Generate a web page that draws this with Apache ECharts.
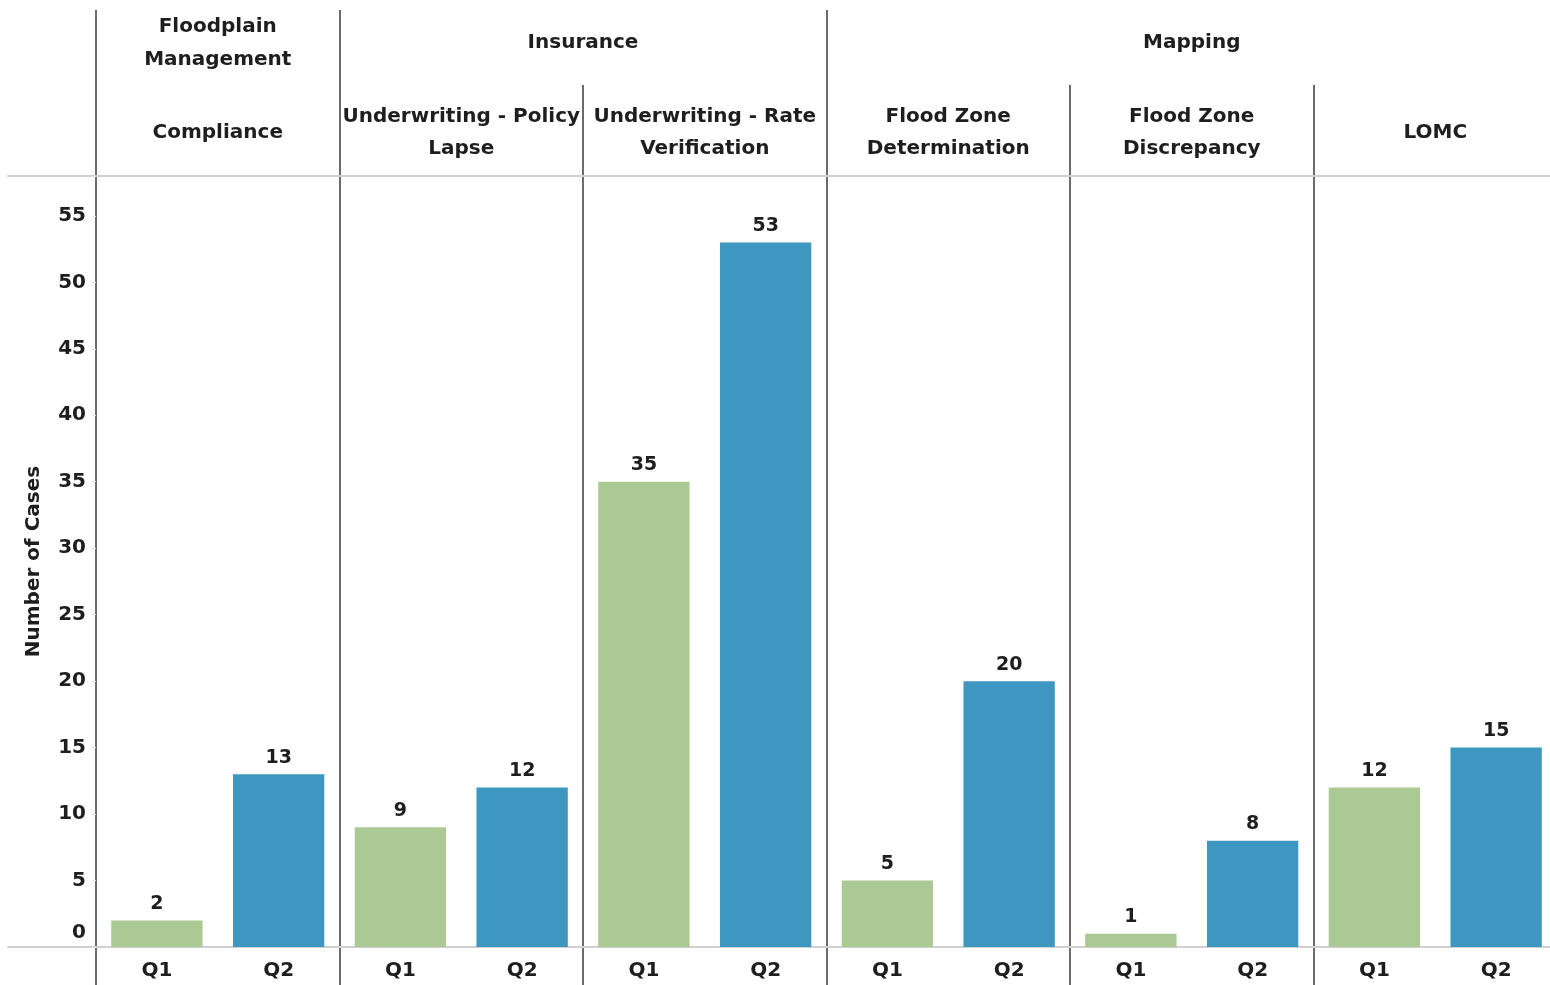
<!DOCTYPE html>
<html>
<head>
<meta charset="utf-8">
<script src="https://cdn.jsdelivr.net/npm/echarts@6/dist/echarts.min.js"></script>
<style>
  html, body { margin: 0; padding: 0; background: #fff; }
  #main { width: 1550px; height: 985px; }
</style>
</head>
<body>
<div id="main"></div>
<script>
// 데이터
var groups = ['Floodplain\nManagement', 'Insurance', 'Mapping'];
var groupSizes = [1, 2, 3];
var subcats = ['Compliance', 'Underwriting - Policy\nLapse', 'Underwriting - Rate\nVerification',
               'Flood Zone\nDetermination', 'Flood Zone\nDiscrepancy', 'LOMC'];
var quarters = ['Q1', 'Q2'];
var q1Values = [2, 9, 35, 5, 1, 12];
var q2Values = [13, 12, 53, 20, 8, 15];
var yTicks = [0, 5, 10, 15, 20, 25, 30, 35, 40, 45, 50, 55];

var GREEN = '#abc994';
var BLUE = '#3d97c1';
var FONT = '"DejaVu Sans", "Noto Sans", sans-serif';
var SEP = '#3a3a3a';
var TXT = '#1e1e1e';
var PLOT_W = 1461; // 오른쪽이 약간 잘림

// 12 칸 (소분류 x 분기)
var xCats = [];
var barData = [];
for (var i = 0; i < subcats.length; i++) {
  xCats.push(quarters[0]);
  barData.push({ value: q1Values[i], itemStyle: { color: GREEN } });
  xCats.push(quarters[1]);
  barData.push({ value: q2Values[i], itemStyle: { color: BLUE } });
}

// 대분류 라벨 위치 (가운데)
var groupCenters = {};
var acc = 0;
groups.forEach(function (g, idx) {
  groupCenters[(acc + groupSizes[idx] / 2).toFixed(1)] = g;
  acc += groupSizes[idx];
});
// 대분류 경계
var groupEdges = { 0: true };
acc = 0;
groupSizes.forEach(function (s) { acc += s; groupEdges[acc] = true; });
var upperColors = [];
for (var k = 0; k <= subcats.length; k++) {
  upperColors.push(groupEdges[k] && k < subcats.length ? SEP : 'rgba(0,0,0,0)');
}

var myChart = echarts.init(document.getElementById('main'));
var option = {
  animation: false,
  textStyle: { fontFamily: FONT },
  grid: [
    { left: 96, width: PLOT_W, top: 176, bottom: 38, outerBoundsMode: 'none' },   // 막대
    { left: 96, width: PLOT_W, top: 85, bottom: 0, outerBoundsMode: 'none' },     // 세로 구분선
    { left: 96, width: PLOT_W, top: 10, height: 75, outerBoundsMode: 'none' },    // 대분류 구분선
    { left: 8, right: 0, top: 176, bottom: 38, outerBoundsMode: 'none' }          // 가로선
  ],
  xAxis: [
    {
      type: 'category', gridIndex: 0, data: xCats,
      axisLine: { show: false }, axisTick: { show: false },
      axisLabel: { interval: 0, color: TXT, fontWeight: 'bold', fontSize: 20, margin: 14, fontFamily: FONT }
    },
    {
      type: 'category', gridIndex: 0, position: 'top', data: subcats,
      axisLine: { show: false }, axisTick: { show: false },
      axisLabel: { interval: 0, color: TXT, fontWeight: 'bold', fontSize: 20, margin: 43,
                   verticalAlign: 'middle', lineHeight: 32, fontFamily: FONT }
    },
    {
      type: 'value', gridIndex: 0, position: 'top', min: 0, max: subcats.length, interval: 0.5,
      axisLine: { show: false }, axisTick: { show: false }, splitLine: { show: false },
      axisLabel: {
        color: TXT, fontWeight: 'bold', fontSize: 20, margin: 133,
        verticalAlign: 'middle', lineHeight: 33, fontFamily: FONT,
        formatter: function (v) { return groupCenters[v.toFixed(1)] || ''; }
      }
    },
    {
      type: 'value', gridIndex: 1, min: 0, max: subcats.length, interval: 1,
      axisLine: { show: false }, axisTick: { show: false }, axisLabel: { show: false },
      splitLine: { show: true, lineStyle: { color: SEP, width: 1.5 } }
    },
    {
      type: 'value', gridIndex: 2, min: 0, max: subcats.length, interval: 1,
      axisLine: { show: false }, axisTick: { show: false }, axisLabel: { show: false },
      splitLine: { show: true, lineStyle: { color: upperColors, width: 1.5 } }
    },
    {
      type: 'value', gridIndex: 3, min: 0, max: 1, position: 'bottom',
      axisLine: { show: true, lineStyle: { color: '#d0d0d0', width: 2 } },
      axisTick: { show: false }, axisLabel: { show: false }, splitLine: { show: false }
    },
    {
      type: 'value', gridIndex: 3, min: 0, max: 1, position: 'top',
      axisLine: { show: true, lineStyle: { color: '#d0d0d0', width: 2 } },
      axisTick: { show: false }, axisLabel: { show: false }, splitLine: { show: false }
    }
  ],
  yAxis: [
    {
      type: 'value', gridIndex: 0, min: 0, max: 58, interval: 5,
      name: 'Number of Cases', nameLocation: 'middle', nameGap: 52, nameRotate: 90,
      nameTextStyle: { color: TXT, fontWeight: 'bold', fontSize: 20, fontFamily: FONT },
      axisLine: { show: false },
      axisTick: { show: true, length: 4, lineStyle: { color: '#e4e4e4' } },
      splitLine: { show: false },
      axisLabel: {
        color: TXT, fontWeight: 'bold', fontSize: 20, margin: 10, fontFamily: FONT,
        formatter: function (v) { return yTicks.indexOf(v) < 0 ? '' : (v === 0 ? '{z|0}' : String(v)); },
        rich: { z: { fontWeight: 'bold', fontSize: 20, color: TXT, fontFamily: FONT, padding: [0, 0, 28, 0] } }
      }
    },
    { type: 'value', gridIndex: 1, show: false },
    { type: 'value', gridIndex: 2, show: false },
    { type: 'value', gridIndex: 3, show: false }
  ],
  series: [
    {
      name: 'Cases', type: 'bar', xAxisIndex: 0, yAxisIndex: 0,
      barWidth: '75%',
      data: barData,
      label: {
        show: true, position: 'top', distance: 7,
        color: TXT, fontWeight: 'bold', fontSize: 19, fontFamily: FONT
      }
    }
  ]
};
myChart.setOption(option);
window.addEventListener('resize', myChart.resize);
</script>
</body>
</html>
